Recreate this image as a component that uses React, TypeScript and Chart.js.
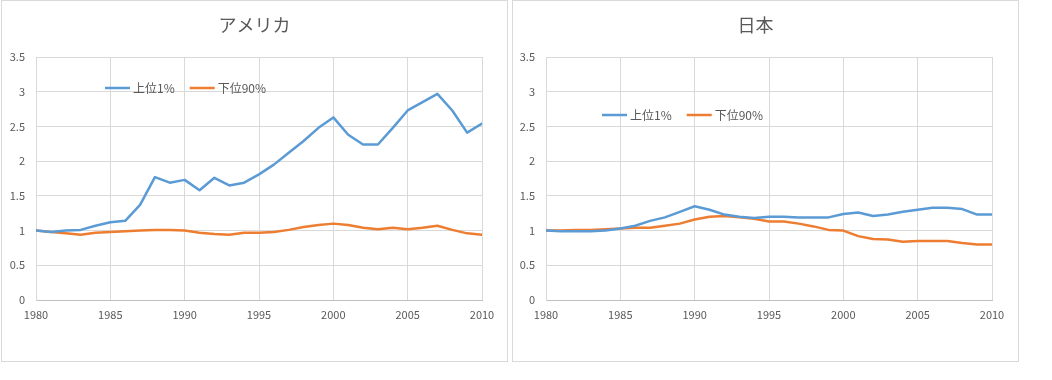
import React, { useEffect, useRef } from "react";
import { Chart, registerables } from "chart.js";

Chart.register(...registerables);

const years = [
  1980, 1981, 1982, 1983, 1984, 1985, 1986, 1987, 1988, 1989, 1990, 1991, 1992, 1993, 1994, 1995,
  1996, 1997, 1998, 1999, 2000, 2001, 2002, 2003, 2004, 2005, 2006, 2007, 2008, 2009, 2010,
];

const seriesLabels = ["上位1%", "下位90%"];
const seriesColors = ["#5b9bd5", "#ed7d31"];

const usTop1 = [
  1.0, 0.98, 1.0, 1.01, 1.07, 1.12, 1.14, 1.37, 1.77, 1.69, 1.73, 1.58, 1.76, 1.65, 1.69, 1.81,
  1.95, 2.12, 2.29, 2.48, 2.63, 2.38, 2.24, 2.24, 2.48, 2.73, 2.85, 2.97, 2.73, 2.41, 2.54,
];
const usBottom90 = [
  1.0, 0.98, 0.96, 0.94, 0.97, 0.98, 0.99, 1.0, 1.01, 1.01, 1.0, 0.97, 0.95, 0.94, 0.97, 0.97,
  0.98, 1.01, 1.05, 1.08, 1.1, 1.08, 1.04, 1.02, 1.04, 1.02, 1.04, 1.07, 1.01, 0.96, 0.94,
];
const jpTop1 = [
  1.0, 0.99, 0.99, 0.99, 1.0, 1.03, 1.07, 1.14, 1.19, 1.27, 1.35, 1.3, 1.23, 1.2, 1.18, 1.2,
  1.2, 1.19, 1.19, 1.19, 1.24, 1.26, 1.21, 1.23, 1.27, 1.3, 1.33, 1.33, 1.31, 1.23, 1.23,
];
const jpBottom90 = [
  1.0, 1.0, 1.01, 1.01, 1.02, 1.03, 1.04, 1.04, 1.07, 1.1, 1.16, 1.2, 1.21, 1.19, 1.17, 1.13,
  1.13, 1.1, 1.06, 1.01, 1.0, 0.92, 0.88, 0.87, 0.84, 0.85, 0.85, 0.85, 0.82, 0.8, 0.8,
];

const xMin = 1980;
const xMax = 2010;
const xStep = 5;
const yMin = 0;
const yMax = 3.5;
const yStep = 0.5;

const FONT = '"Noto Sans CJK JP", "Open Sans", sans-serif';
const TEXT = "#595959";
const GRID = "#d9d9d9";

const titlePlugin = {
  id: "panelTitle",
  afterDraw(chart: any, _args: any, opts: any) {
    const ctx = chart.ctx;
    ctx.save();
    ctx.fillStyle = TEXT;
    ctx.font = `18px ${FONT}`;
    ctx.textAlign = "center";
    ctx.textBaseline = "middle";
    ctx.fillText(opts.text, chart.width / 2 + (opts.dx || 0), opts.y);
    ctx.restore();
  },
};

const legendPlugin = {
  id: "insideLegend",
  afterDraw(chart: any, _args: any, opts: any) {
    const ctx = chart.ctx;
    const area = chart.chartArea;
    let x = area.left + opts.dx;
    const y = area.top + opts.dy;
    ctx.save();
    ctx.font = `12px ${FONT}`;
    ctx.textBaseline = "middle";
    ctx.textAlign = "left";
    chart.data.datasets.forEach((ds: any) => {
      ctx.strokeStyle = ds.borderColor;
      ctx.lineWidth = 2.5;
      ctx.beginPath();
      ctx.moveTo(x, y);
      ctx.lineTo(x + 25, y);
      ctx.stroke();
      x += 28;
      ctx.fillStyle = TEXT;
      ctx.fillText(ds.label, x, y);
      x += ctx.measureText(ds.label).width + 15;
    });
    ctx.restore();
  },
};

type PanelProps = {
  left: number;
  title: string;
  titleDx: number;
  top1: number[];
  bottom90: number[];
  yAxisWidth: number;
  rightPad: number;
  legendDx: number;
  legendDy: number;
};

function Panel(props: PanelProps) {
  const ref = useRef<HTMLCanvasElement | null>(null);
  useEffect(() => {
    if (!ref.current) return;
    const series = [props.top1, props.bottom90];
    const chart = new Chart(ref.current, {
      type: "line",
      data: {
        datasets: series.map((vals, i) => ({
          label: seriesLabels[i],
          data: years.map((yr, j) => ({ x: yr, y: vals[j] })),
          borderColor: seriesColors[i],
          backgroundColor: seriesColors[i],
          borderWidth: 2.5,
          pointRadius: 0,
          tension: 0,
          borderJoinStyle: "round" as const,
          borderCapStyle: "round" as const,
        })),
      },
      options: {
        animation: false,
        responsive: false,
        maintainAspectRatio: false,
        layout: { padding: { top: 56, left: 0, right: props.rightPad, bottom: 0 } },
        plugins: {
          legend: { display: false },
          title: { display: false },
          tooltip: { enabled: false },
          panelTitle: { text: props.title, dx: props.titleDx, y: 24 },
          insideLegend: { dx: props.legendDx, dy: props.legendDy },
        } as any,
        scales: {
          x: {
            type: "linear",
            min: xMin,
            max: xMax,
            afterFit: (s: any) => {
              s.height = 61;
            },
            grid: { color: GRID, lineWidth: 1, drawTicks: false },
            border: { color: "#bfbfbf", width: 1 },
            ticks: {
              stepSize: xStep,
              padding: 8,
              color: TEXT,
              font: { family: FONT, size: 11 },
              callback: (v: any) => String(v),
              maxRotation: 0,
            },
          },
          y: {
            min: yMin,
            max: yMax,
            afterFit: (s: any) => {
              s.width = props.yAxisWidth;
            },
            grid: { color: GRID, lineWidth: 1, drawTicks: false },
            border: { color: GRID, width: 1 },
            ticks: {
              stepSize: yStep,
              padding: 11,
              color: TEXT,
              font: { family: FONT, size: 11 },
              callback: (v: any) => String(v),
            },
          },
        },
      },
      plugins: [titlePlugin, legendPlugin],
    });
    return () => chart.destroy();
  }, []);
  return (
    <div
      style={{
        position: "absolute",
        left: props.left,
        top: 0,
        width: 507,
        height: 362,
        boxSizing: "border-box",
        border: "1px solid #d9d9d9",
        background: "#fff",
      }}
    >
      <canvas ref={ref} width={505} height={360} style={{ display: "block", width: 505, height: 360 }} />
    </div>
  );
}

export default function App() {
  return (
    <div style={{ position: "absolute", left: 0, top: 0, width: 1052, height: 380, background: "#fff" }}>
      <Panel
        left={1}
        title="アメリカ"
        titleDx={0}
        top1={usTop1}
        bottom90={usBottom90}
        yAxisWidth={34}
        rightPad={25}
        legendDx={69}
        legendDy={31}
      />
      <Panel
        left={512}
        title="日本"
        titleDx={-10}
        top1={jpTop1}
        bottom90={jpBottom90}
        yAxisWidth={33}
        rightPad={26}
        legendDx={56}
        legendDy={58}
      />
    </div>
  );
}
